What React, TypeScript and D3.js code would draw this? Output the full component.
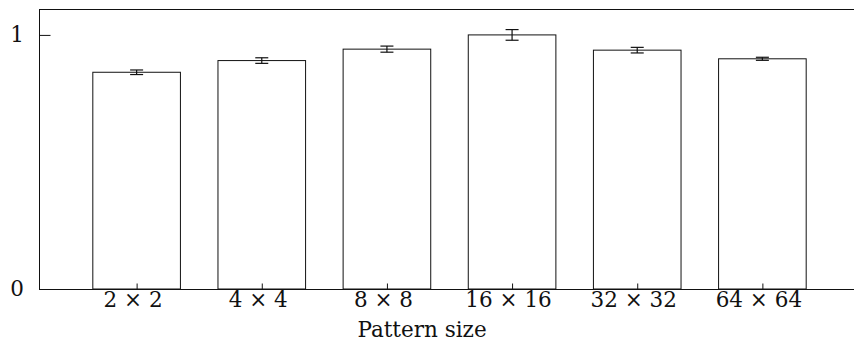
import { useEffect, useRef } from 'react'
import { select, scaleLinear, axisBottom, axisLeft } from 'd3'

const categories = ['2 × 2', '4 × 4', '8 × 8', '16 × 16', '32 × 32', '64 × 64']
const values = [0.853, 0.899, 0.944, 1.0, 0.94, 0.906]
const errors = [0.009, 0.011, 0.012, 0.021, 0.011, 0.006]
const yTicks = [0, 1]
const xLabel = 'Pattern size'

function App() {
  const svg_ref = useRef<SVGSVGElement>(null)
  const width = 854,
        height = 342
  const plot = { left: 39, right: 860, top: 9.5, bottom: 289 }
  const font = "'DejaVu Serif', serif"
  const fontSize = '21.5px'

  useEffect(() => {
    const svg = select(svg_ref.current)
    svg.selectAll('*').remove()

    const x = scaleLinear([-0.78, categories.length - 0.22], [plot.left, plot.right])
    const y = scaleLinear([0, 1.1], [plot.bottom, plot.top])
    const barW = x(0.7) - x(0)
    const idx = categories.map((_, i) => i)

    // bars
    svg.append('g')
      .selectAll('rect')
      .data(values)
      .join('rect')
      .attr('x', (_, i) => x(i) - barW / 2)
      .attr('y', d => y(d))
      .attr('width', barW)
      .attr('height', d => y(0) - y(d))
      .attr('fill', 'white')
      .attr('stroke', '#111')

    // error bars
    const eb = svg.append('g')
      .attr('stroke', '#111')
      .attr('stroke-width', 1.2)
    values.forEach((v, i) => {
      const cx = x(i), lo = y(v - errors[i]), hi = y(v + errors[i])
      eb.append('line').attr('x1', cx).attr('x2', cx).attr('y1', lo).attr('y2', hi)
      eb.append('line').attr('x1', cx - 6.5).attr('x2', cx + 6.5).attr('y1', lo).attr('y2', lo)
      eb.append('line').attr('x1', cx - 6.5).attr('x2', cx + 6.5).attr('y1', hi).attr('y2', hi)
    })

    // top frame line
    svg.append('line')
      .attr('x1', plot.left).attr('x2', plot.right)
      .attr('y1', y(1.1)).attr('y2', y(1.1))
      .attr('stroke', '#111')

    const xAxis = axisBottom(x)
      .tickValues(idx)
      .tickSizeInner(-5.5)
      .tickSizeOuter(0)
      .tickPadding(3.2)
      .tickFormat(i => categories[i as number])

    const gx = svg.append('g')
      .attr('transform', `translate(0, ${plot.bottom})`)
      .call(xAxis)
      .attr('font-family', null)
      .attr('font-size', null)
    gx.select('.domain').attr('stroke', '#111')
    gx.selectAll('.tick line').attr('stroke', '#111')
    gx.selectAll('text')
      .attr('dx', -4)
      .style('font-family', font)
      .style('font-size', fontSize)
      .attr('fill', '#111')

    const yAxis = axisLeft(y)
      .tickValues(yTicks)
      .tickSizeInner(-11.5)
      .tickSizeOuter(0)
      .tickPadding(15)
      .tickFormat(v => String(v))

    const gy = svg.append('g')
      .attr('transform', `translate(${plot.left}, 0)`)
      .call(yAxis)
      .attr('font-family', null)
      .attr('font-size', null)
    gy.select('.domain').attr('stroke', '#111')
    gy.selectAll('.tick line').attr('stroke', '#111')
    gy.selectAll('text')
      .style('font-family', font)
      .style('font-size', fontSize)
      .attr('fill', '#111')

    svg.append('text')
      .attr('x', 422)
      .attr('y', 337)
      .attr('text-anchor', 'middle')
      .style('font-family', font)
      .style('font-size', fontSize)
      .attr('fill', '#111')
      .text(xLabel)
  }, [])

  return (
    <svg
      ref={svg_ref}
      width={width}
      height={height}
      viewBox={`0 0 ${width} ${height}`}
      style={{ position: 'absolute', left: 0, top: 0, background: 'white' }}
    />
  )
}

export default App
